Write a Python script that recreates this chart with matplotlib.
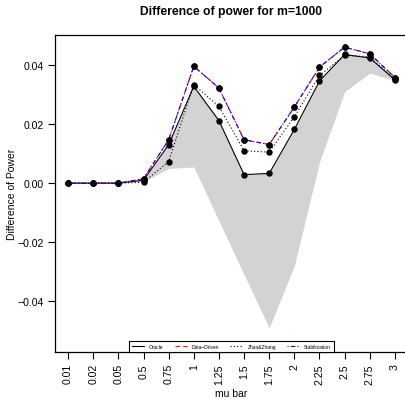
import numpy as np
import matplotlib
matplotlib.use('Agg')
import matplotlib.pyplot as plt

plt.rcParams['font.family'] = ['Liberation Sans', 'DejaVu Sans']

# data
mu_labels = ['0.01', '0.02', '0.05', '0.5', '0.75', '1', '1.25', '1.5',
             '1.75', '2', '2.25', '2.5', '2.75', '3']
oracle = [0, 0, 0, 0.0010, 0.0130, 0.0328, 0.0212, 0.0029, 0.0033,
          0.0182, 0.0346, 0.0436, 0.0424, 0.0350]
data_driven = [0, 0, 0, 0.0015, 0.0147, 0.0396, 0.0322, 0.0147, 0.0131,
               0.0258, 0.0393, 0.0461, 0.0438, 0.0358]
zhao_zhang = [0, 0, 0, 0.0003, 0.0073, 0.0334, 0.0260, 0.0110, 0.0105,
              0.0225, 0.0365, 0.0433, 0.0428, 0.0352]
stabilization = [0, 0, 0, 0.0015, 0.0147, 0.0396, 0.0322, 0.0147, 0.0131,
                 0.0258, 0.0393, 0.0461, 0.0438, 0.0358]
band_low = [0, 0, 0, 0.0005, 0.0050, 0.0055, -0.0128, -0.0310, -0.0490,
            -0.0280, 0.0072, 0.0310, 0.0373, 0.0347]

x = np.arange(1, len(mu_labels) + 1)

fig = plt.figure(figsize=(4.06, 4.02), dpi=100)
ax = fig.add_axes([55/406, 49/402, 353/406, 317/402])

ax.fill_between(x, band_low, oracle, color='#d3d3d3', lw=0, zorder=1)

ax.plot(x, oracle, color='black', lw=0.8, ls='-', label='Oracle', zorder=3)
ax.plot(x, data_driven, color='red', lw=0.8, ls=(0, (4, 3)), label='Data\u2212Driven', zorder=3)
ax.plot(x, zhao_zhang, color='black', lw=0.8, ls=(0, (1, 2)), label='Zhao&Zhang', zorder=3)
ax.plot(x, stabilization, color='blue', lw=0.8, ls=(0, (1, 2, 4, 2)), label='Stabilization', zorder=3)
for s in [oracle, data_driven, zhao_zhang, stabilization]:
    ax.plot(x, s, ls='none', marker='o', ms=3.6, color='black', zorder=4)

ax.set_xlim(0.48, 14.52)
ax.set_ylim(-0.0572, 0.0502)
ax.set_xticks(x)
ax.set_xticklabels(mu_labels, rotation=90, fontsize=7.6)
ax.set_yticks([-0.04, -0.02, 0.0, 0.02, 0.04])
ax.set_yticklabels(['\u22120.04', '\u22120.02', '0.00', '0.02', '0.04'], fontsize=7.6)
ax.tick_params(length=5, width=0.8, pad=3)
ax.spines['right'].set_visible(False)
for sp in ['left', 'top', 'bottom']:
    ax.spines[sp].set_linewidth(0.9)

ax.set_xlabel('mu bar', fontsize=7.5, labelpad=3)
ax.set_ylabel('Difference of Power', fontsize=7.5)
ax.yaxis.set_label_coords(-38/353, 0.5)
fig.text(231/406, 1 - 12/402, 'Difference of power for m=1000', ha='center', va='center',
         fontsize=8.7, fontweight='bold')

leg = ax.legend(ncol=4, loc='lower center', bbox_to_anchor=(0.5, 0), borderaxespad=0,
                fontsize=3.5, frameon=True, fancybox=False, edgecolor='black',
                framealpha=1, handlelength=2.5, columnspacing=2.3, handletextpad=1.0,
                borderpad=0.6)
leg.get_frame().set_linewidth(0.8)

fig.savefig('out.png', dpi=100)
